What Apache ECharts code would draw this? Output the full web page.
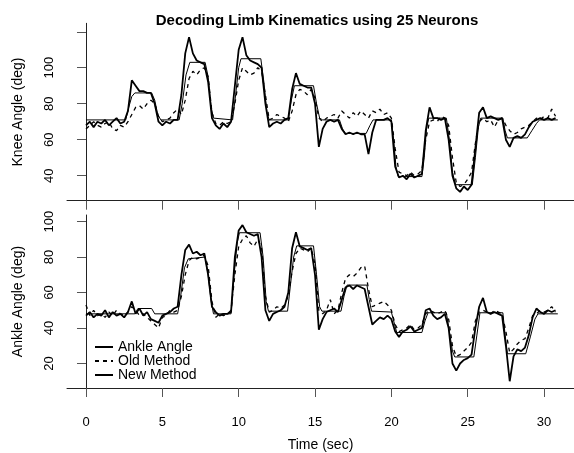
<!DOCTYPE html>
<html>
<head>
<meta charset="utf-8">
<script src="https://cdn.jsdelivr.net/npm/echarts@6/dist/echarts.min.js"></script>
<style>
  html, body { margin: 0; padding: 0; background: #fff; }
  #chart { width: 574px; height: 453px; }
</style>
</head>
<body>
<div id="chart"></div>
<script>
// sampling grid of the decoded traces (sec)
const dt = 0.25;
const time = Array.from({ length: 124 }, (_, i) => i * dt);

const xTicks = [0, 5, 10, 15, 20, 25, 30];
const kneeTicks = [40, 60, 80, 100, 120];
const kneeLabels = [40, 60, 80, 100];
const ankleTicks = [20, 40, 60, 80, 100];

// true knee angle, [sec, deg] breakpoints
const kneeTrue = [
  [0, 71], [2.6, 71], [2.8, 78], [3.0, 84], [3.2, 86], [4.3, 86], [4.5, 82], [4.7, 74], [4.9, 71],
  [6.1, 71], [6.3, 80], [6.55, 96], [6.8, 103], [7.8, 103], [8.0, 95], [8.2, 78], [8.35, 72],
  [9.6, 71], [9.8, 85], [10.0, 100], [10.15, 105], [11.45, 105], [11.65, 92], [11.85, 75], [12.0, 71],
  [13.25, 71], [13.45, 82], [13.65, 90], [14.9, 90], [15.1, 80], [15.3, 72], [15.5, 71],
  [16.6, 71], [16.8, 66], [17.0, 63.5], [18.35, 63.5], [18.6, 68], [18.8, 71],
  [20.0, 71], [20.15, 60], [20.3, 45], [20.45, 39.5], [22.0, 39.5], [22.15, 50], [22.3, 66], [22.45, 72],
  [23.6, 72], [23.8, 60], [24.0, 42], [24.2, 35], [25.3, 35], [25.5, 50], [25.7, 67], [25.85, 72],
  [27.3, 72], [27.45, 65], [27.6, 61], [28.9, 61], [29.2, 65], [29.5, 69], [29.7, 71], [30.9, 71]
];

// knee, new method (one row per second)
const kneeNew = [
  68, 70, 67, 70,   69, 71, 68, 70,   72, 69, 70, 76,   93, 90, 87, 87,
  86, 86, 80, 70,   68, 70, 69, 71,   71, 85, 108, 117, 108, 104, 103, 102,
  92, 72, 68, 66,   69, 67, 70, 90,   110, 117, 107, 104, 103, 102, 100, 80,
  67, 69, 70, 69,   71, 72, 88, 97,   91, 90, 89, 89,   80, 56, 66, 70,
  71, 70, 71, 66,   63, 64, 63, 64,   63, 63, 52, 64,   71, 71, 71, 72,
  70, 45, 39, 40,   38, 41, 39, 40,   41, 65, 78, 72,   72, 71, 72, 60,
  40, 33, 31, 34,   32, 35, 55, 75,   78, 72, 73, 72,   71, 72, 60, 56,
  61, 62, 61, 63,   67, 70, 71, 72,   71, 72, 71, 72
];

// knee, old method
const kneeOld = [
  66, 68, 70, 68,   67, 69, 70, 66,   65, 68, 67, 70,   74, 78, 79, 77,
  80, 82, 80, 73,   70, 71, 72, 75,   77, 74, 82, 94,   98, 96, 99, 100,
  95, 75, 69, 68,   70, 69, 70, 80,   93, 100, 98, 96,  97, 100, 98, 85,
  71, 72, 74, 73,   72, 70, 76, 85,   88, 87, 85, 88,   83, 72, 70, 72,
  73, 74, 72, 76,   74, 72, 75, 73,   76, 74, 72, 76,   75, 77, 74, 75,
  72, 55, 42, 41,   40, 42, 40, 41,   43, 60, 70, 71,   70, 73, 72, 68,
  50, 36, 34, 35,   38, 42, 58, 70,   72, 70, 71, 67,   71, 72, 68, 65,
  63, 64, 66, 67,   68, 70, 72, 71,   73, 72, 77, 73
];

// true ankle angle, [sec, deg] breakpoints
const ankleTrue = [
  [0, 48], [3.2, 48], [3.4, 51], [4.3, 51], [4.5, 48],
  [6.0, 48], [6.2, 58], [6.45, 74], [6.7, 79], [7.8, 80], [8.0, 70], [8.2, 55], [8.35, 48],
  [9.5, 48], [9.7, 70], [9.9, 88], [10.05, 93.7], [11.4, 93.7], [11.6, 80], [11.8, 55], [11.95, 49.5],
  [13.2, 49.5], [13.4, 65], [13.6, 80], [13.8, 86.3], [14.9, 86.3], [15.1, 70], [15.3, 52], [15.45, 49.5],
  [16.7, 49.5], [16.9, 58], [17.1, 64.2], [18.4, 64.2], [18.55, 56], [18.7, 49.5],
  [20.0, 49], [20.15, 44], [20.35, 37.5], [22.0, 37.5], [22.2, 44], [22.4, 48.6],
  [23.6, 48.6], [23.8, 38], [24.0, 27], [24.15, 23.7], [25.4, 23.7], [25.6, 36], [25.8, 48.6],
  [27.3, 48.6], [27.45, 36], [27.6, 25.5], [28.8, 25.5], [29.1, 35], [29.4, 45], [29.6, 48], [30.9, 48]
];

// ankle, new method
const ankleNew = [
  47, 49, 46, 48,   47, 50, 46, 49,   47, 48, 46, 49,   55, 48, 51, 47,
  49, 45, 44, 43,   47, 48, 49, 51,   52, 70, 84, 87,   82, 83, 81, 82,
  70, 52, 49, 47,   48, 48, 49, 80,   95, 98, 94, 93,   92, 93, 80, 50,
  44, 48, 49, 50,   52, 60, 85, 94,   86, 85, 84, 85,   70, 39, 45, 49,
  50, 51, 49, 56,   63, 64, 62, 64,   63, 62, 52, 42,   44, 46, 45, 47,
  45, 38, 35, 38,   39, 41, 38, 39,   40, 50, 51, 47,   45, 46, 48, 40,
  20, 16, 20, 22,   23, 25, 40, 52,   57, 49, 48, 49,   48, 47, 30, 10,
  24, 28, 27, 29,   36, 46, 51, 49,   48, 50, 49, 50
];

// ankle, old method
const ankleOld = [
  53, 47, 50, 47,   48, 46, 49, 47,   50, 48, 47, 49,   52, 50, 47, 48,
  46, 44, 42, 40,   46, 47, 50, 49,   50, 58, 70, 78,   80, 79, 80, 81,
  75, 55, 46, 48,   47, 48, 50, 70,   86, 90, 92, 88,   86, 90, 85, 58,
  49, 50, 52, 51,   53, 58, 72, 82,   85, 84, 83, 85,   76, 50, 48, 50,
  56, 48, 50, 60,   68, 70, 69, 71,   74, 75, 62, 52,   53, 54, 55, 53,
  50, 42, 38, 39,   40, 42, 39, 40,   42, 48, 50, 49,   48, 49, 50, 45,
  30, 24, 25, 27,   29, 32, 44, 49,   50, 49, 48, 50,   49, 48, 38, 26,
  28, 31, 33, 34,   40, 47, 48, 50,   49, 50, 52, 49
];

const pair = (vals) => vals.map((v, i) => [time[i], v]);

const font = "Liberation Sans, Arial, sans-serif";
const axisColor = "#222";

const xAxisBase = (gridIndex, showLabels) => ({
  type: "value",
  gridIndex,
  min: -1.244,
  max: 31.96,
  axisLine: { show: true, lineStyle: { color: axisColor, width: 1 } },
  axisTick: {
    show: true, inside: false, length: 9, customValues: xTicks,
    lineStyle: { color: "#555", width: 1 },
  },
  axisLabel: {
    show: showLabels, customValues: xTicks, margin: 28,
    color: "#000", fontSize: 13, fontFamily: font,
  },
  splitLine: { show: false },
  name: showLabels ? "Time (sec)" : "",
  nameLocation: "middle",
  nameGap: 50,
  nameTextStyle: { color: "#000", fontSize: 14, fontFamily: font },
});

const yAxisBase = (gridIndex, min, max, ticks, labels, name) => ({
  type: "value",
  gridIndex,
  min,
  max,
  axisLine: { show: true, lineStyle: { color: axisColor, width: 1 } },
  axisTick: {
    show: true, inside: false, length: 9, customValues: ticks,
    lineStyle: { color: "#555", width: 1 },
  },
  axisLabel: {
    customValues: labels, rotate: 90, margin: 11,
    color: "#000", fontSize: 13, fontFamily: font,
  },
  splitLine: { show: false },
  name,
  nameLocation: "middle",
  nameGap: 42,
  nameTextStyle: { color: "#000", fontSize: 14, fontFamily: font },
});

const lineSeries = (name, data, idx, style) => ({
  name,
  type: "line",
  xAxisIndex: idx,
  yAxisIndex: idx,
  data,
  symbol: "none",
  smooth: false,
  lineStyle: Object.assign({ color: "#000" }, style),
  itemStyle: { color: "#000" },
});

const thin = { width: 1 };
const dashed = { width: 1.3, type: [4, 4] };
const thick = { width: 1.8 };

const chart = echarts.init(document.getElementById("chart"), null, { renderer: "canvas" });

chart.setOption({
  animation: false,
  backgroundColor: "#fff",
  title: {
    text: "Decoding Limb Kinematics using 25 Neurons",
    left: 312,
    textAlign: "center",
    top: 8,
    textStyle: { color: "#000", fontSize: 15, fontWeight: "bold", fontFamily: font },
  },
  legend: {
    orient: "vertical",
    left: 89,
    top: 335,
    itemWidth: 18,
    itemHeight: 10,
    itemGap: 0,
    data: ["Ankle Angle", "Old Method", "New Method"],
    itemStyle: { opacity: 0 },
    textStyle: { color: "#000", fontSize: 14, fontFamily: font, lineHeight: 13.5 },
    selectedMode: false,
  },
  grid: [
    { left: 67, top: 23.3, width: 507, height: 177.4 },
    { left: 67, top: 215, width: 507, height: 176.7 },
  ],
  xAxis: [xAxisBase(0, false), xAxisBase(1, true)],
  yAxis: [
    yAxisBase(0, 26.1, 124.7, kneeTicks, kneeLabels, "Knee Angle (deg)"),
    yAxisBase(1, 6.2, 103.7, ankleTicks, ankleTicks, "Ankle Angle (deg)"),
  ],
  series: [
    lineSeries("Ankle Angle", kneeTrue, 0, thin),
    lineSeries("Old Method", pair(kneeOld), 0, dashed),
    lineSeries("New Method", pair(kneeNew), 0, thick),
    lineSeries("Ankle Angle", ankleTrue, 1, thin),
    lineSeries("Old Method", pair(ankleOld), 1, dashed),
    lineSeries("New Method", pair(ankleNew), 1, thick),
  ],
});
</script>
</body>
</html>
